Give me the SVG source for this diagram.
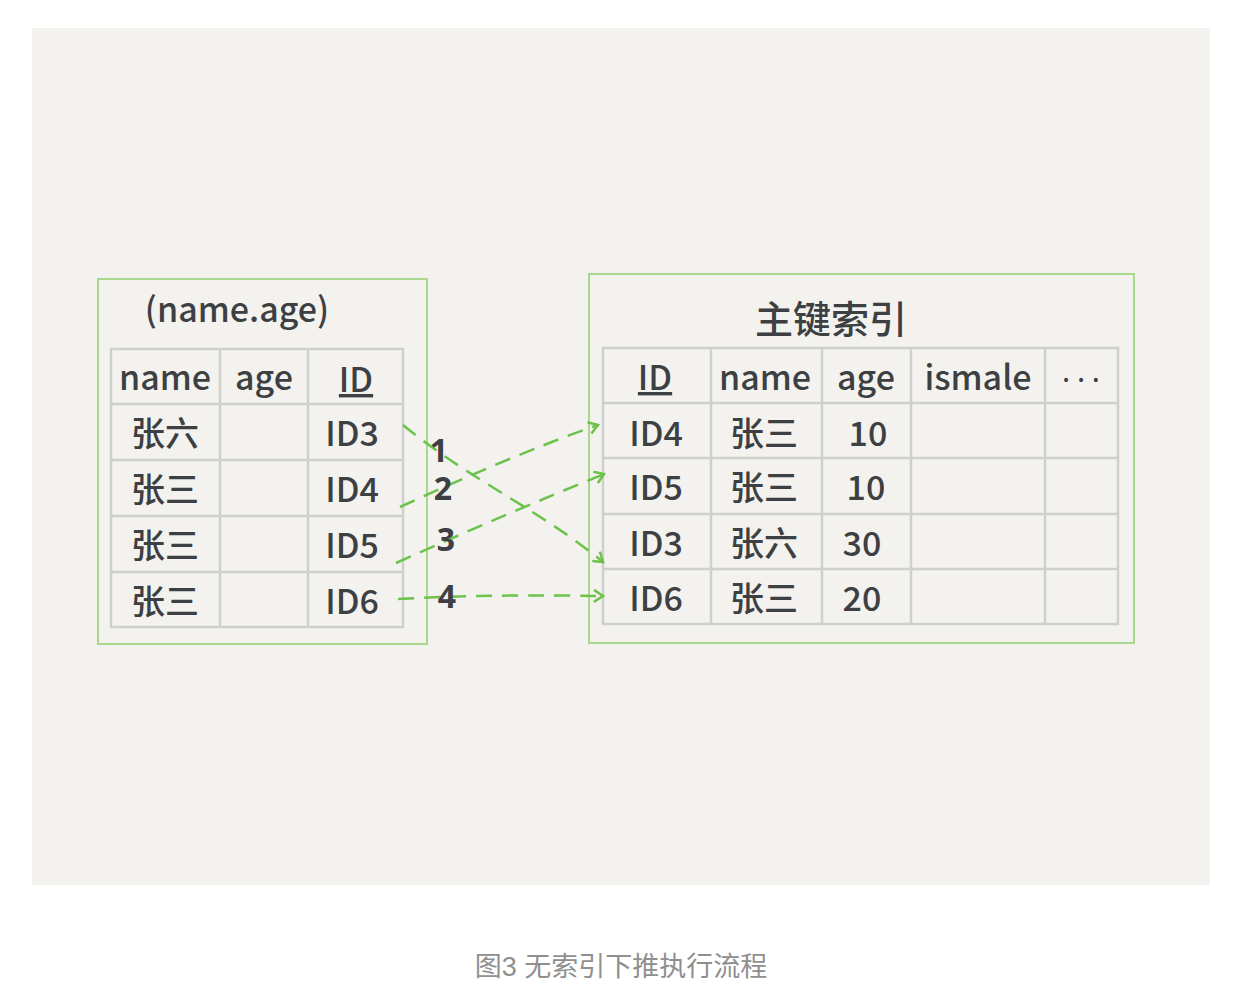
<svg xmlns="http://www.w3.org/2000/svg" width="1258" height="1006" viewBox="0 0 1258 1006">
<style>
.box{fill:none;stroke:#a9d78c;stroke-width:2}
.grid{fill:none;stroke:#cfcfcc;stroke-width:2.5}
.t{font-family:"Noto Sans CJK SC","Noto Sans",sans-serif;fill:#3d4043;font-size:34px;font-weight:500;text-anchor:middle}
.n{font-family:"Noto Sans",sans-serif;fill:#3d4043;font-size:32px;font-weight:bold;text-anchor:middle}
.c{stroke:#6cc24a;stroke-width:2.5;fill:none;stroke-dasharray:16 10}
.cap{font-family:"Liberation Sans","Noto Sans CJK SC",sans-serif;fill:#8f8f8f;font-size:27px;text-anchor:middle}
</style>
<defs>
<marker id="ah" markerWidth="14" markerHeight="14" refX="11" refY="7" orient="auto" markerUnits="userSpaceOnUse">
<path d="M2,1 L11,7 L2,13" fill="none" stroke="#6cc24a" stroke-width="2.5"/>
</marker>
</defs>
<rect width="1258" height="1006" fill="#ffffff"/>
<rect x="32" y="28" width="1178" height="857" fill="#f3f2ee"/>

<g id="left-index">
<rect class="box" x="98" y="279" width="329" height="365"/>
<text class="t" x="237" y="322">(name.age)</text>
<rect class="grid" x="111" y="349" width="292" height="278"/>
<path class="grid" d="M111,404H403M111,460H403M111,516H403M111,572H403M220,349V627M308,349V627"/>
<text class="t" x="165" y="390">name</text>
<text class="t" x="264" y="390">age</text>
<text class="t" x="356" y="392" style="text-decoration:underline">ID</text>
<text class="t" x="165" y="446">张六</text>
<text class="t" x="165" y="502">张三</text>
<text class="t" x="165" y="558">张三</text>
<text class="t" x="165" y="614">张三</text>
<text class="t" x="352" y="446">ID3</text>
<text class="t" x="352" y="502">ID4</text>
<text class="t" x="352" y="558">ID5</text>
<text class="t" x="352" y="614">ID6</text>
</g>

<g id="primary-index">
<rect class="box" x="589" y="274" width="545" height="369"/>
<text class="t" x="831" y="333" style="font-size:38px">主键索引</text>
<rect class="grid" x="603" y="348" width="515" height="276"/>
<path class="grid" d="M603,403H1118M603,458H1118M603,514H1118M603,569H1118M711,348V624M822,348V624M911,348V624M1045,348V624"/>
<text class="t" x="655" y="390" style="text-decoration:underline">ID</text>
<text class="t" x="765" y="390">name</text>
<text class="t" x="866" y="390">age</text>
<text class="t" x="978" y="390">ismale</text>
<text class="t" x="1081" y="390" style="font-family:'Noto Sans',sans-serif;font-size:28px">· · ·</text>
<text class="t" x="656" y="446">ID4</text>
<text class="t" x="656" y="500">ID5</text>
<text class="t" x="656" y="556">ID3</text>
<text class="t" x="656" y="611">ID6</text>
<text class="t" x="764" y="446">张三</text>
<text class="t" x="764" y="500">张三</text>
<text class="t" x="764" y="556">张六</text>
<text class="t" x="764" y="611">张三</text>
<text class="t" x="868" y="446">10</text>
<text class="t" x="866" y="500">10</text>
<text class="t" x="862" y="556">30</text>
<text class="t" x="862" y="611">20</text>
</g>

<g id="connectors">
<path class="c" d="M403,425 C470,480 540,510 603,562" marker-end="url(#ah)"/>
<path class="c" d="M400,507 C470,475 540,445 598,425" marker-end="url(#ah)"/>
<path class="c" d="M396,563 C470,530 540,500 604,474" marker-end="url(#ah)"/>
<path class="c" d="M398,599 C470,595 540,595 603,596" marker-end="url(#ah)"/>
<text class="n" x="439" y="462">1</text>
<text class="n" x="443" y="500">2</text>
<text class="n" x="446" y="551">3</text>
<text class="n" x="447" y="608">4</text>
</g>

<text class="cap" x="621" y="976">图3 无索引下推执行流程</text>
</svg>
